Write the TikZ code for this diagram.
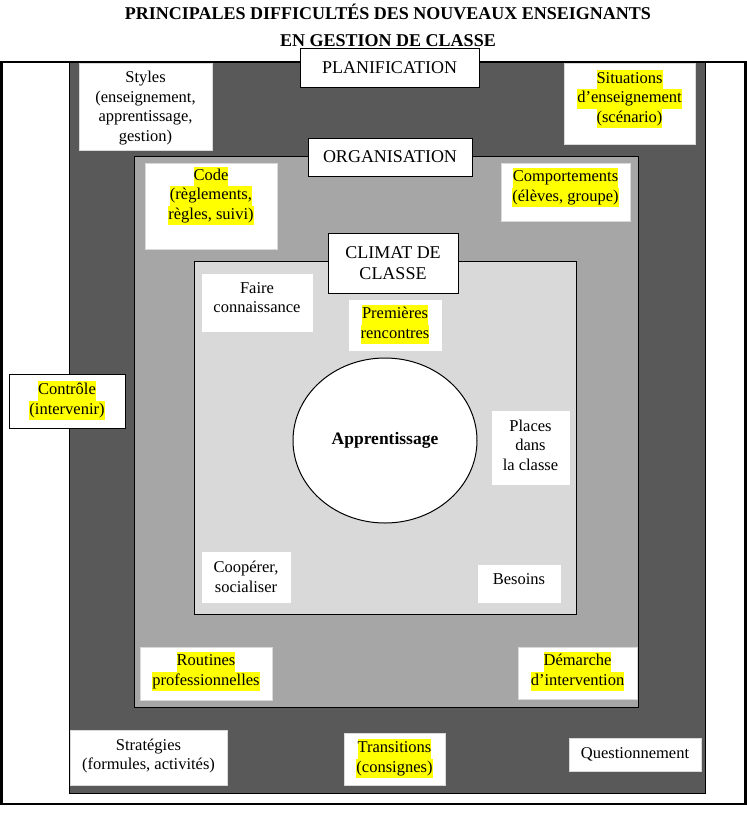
\documentclass[tikz,border=0pt]{standalone}
\usepackage{fontspec}
\setmainfont{Liberation Serif}
\usetikzlibrary{shapes.geometric}
\definecolor{darkg}{RGB}{89,89,89}
\definecolor{midg}{RGB}{166,166,166}
\definecolor{lightg}{RGB}{217,217,217}
\definecolor{hlyellow}{RGB}{255,255,0}
\newcommand{\hlt}[1]{{\setlength{\fboxsep}{0pt}\colorbox{hlyellow}{\strut #1}}}
\tikzset{
  wbox/.style={draw=black!15, line width=0.8pt, fill=white, inner sep=0pt},
  lbox/.style={draw=black, line width=1pt, fill=white, inner sep=0pt,
    font=\fontsize{18}{21}\selectfont, align=center},
  txt/.style={align=center, inner sep=0pt, font=\fontsize{16.5}{19.5}\selectfont},
  zone/.style={line width=1pt, draw=black}
}
\begin{document}
\begin{tikzpicture}[x=1pt,y=-1pt]
\useasboundingbox (0,0) rectangle (747,820);
\fill[white] (0,0) rectangle (747,820);
% title
\node[font=\fontsize{18}{21}\selectfont\bfseries, inner sep=0pt] (title1) at (388,12) {PRINCIPALES DIFFICULTÉS DES NOUVEAUX ENSEIGNANTS};
\node[font=\fontsize{18}{21}\selectfont\bfseries, inner sep=0pt] (title2) at (388,41) {EN GESTION DE CLASSE};
% zones
\draw[line width=2.5pt, fill=white] (1.5,62) rectangle (745.5,804);
\draw[zone, fill=darkg] (69,62) rectangle (705,793);
\draw[zone, fill=midg] (134.5,156) rectangle (638,707);
\draw[zone, fill=lightg] (194.5,261.5) rectangle (576.5,614.5);
% labels of zones
\node[lbox, minimum width=179, minimum height=39] (planif) at (389.5,67.5) {PLANIFICATION};
\node[lbox, minimum width=164, minimum height=38] (organ) at (390,157) {ORGANISATION};
\node[lbox, minimum width=130, minimum height=60] (climat) at (393,263) {CLIMAT DE\\CLASSE};
% planification boxes
\node[wbox, minimum width=133, minimum height=87] (styles) at (145.5,106.5) {};
\node[txt] (stylesT) at (145.5,108) {Styles\\(enseignement,\\apprentissage,\\gestion)};
\node[wbox, minimum width=131, minimum height=81] (situ) at (629.5,103.5) {};
\node[txt] (situT) at (629.5,99) {\hlt{Situations}\\\hlt{d’enseignement}\\\hlt{(scénario)}};
\node[wbox, minimum width=157, minimum height=55] (strat) at (148.5,757.5) {};
\node[txt] (stratT) at (148.5,756) {Stratégies\\(formules, activités)};
\node[wbox, minimum width=101, minimum height=52] (trans) at (394.5,759) {};
\node[txt] (transT) at (394.5,758.5) {\hlt{Transitions}\\\hlt{(consignes)}};
\node[wbox, minimum width=132, minimum height=33] (quest) at (635,754.5) {};
\node[txt] (questT) at (635,754.5) {Questionnement};
\node[lbox, line width=1pt, minimum width=116, minimum height=54] (ctrl) at (67,401) {};
\node[txt] (ctrlT) at (67,400.5) {\hlt{Contrôle}\\\hlt{(intervenir)}};
% organisation boxes
\node[wbox, minimum width=132, minimum height=86] (code) at (211,206) {};
\node[txt] (codeT) at (211,196) {\hlt{Code}\\\hlt{(règlements,}\\\hlt{règles, suivi)}};
\node[wbox, minimum width=129, minimum height=58] (comp) at (565.5,192) {};
\node[txt] (compT) at (565.5,187.5) {\hlt{Comportements}\\\hlt{(élèves, groupe)}};
\node[wbox, minimum width=132, minimum height=53] (rout) at (206,673.5) {};
\node[txt] (routT) at (206,671.5) {\hlt{Routines}\\\hlt{professionnelles}};
\node[wbox, minimum width=119, minimum height=52] (dem) at (577.5,673.5) {};
\node[txt] (demT) at (577.5,671.5) {\hlt{Démarche}\\\hlt{d’intervention}};
% climat boxes
\node[wbox, minimum width=112, minimum height=59] (faire) at (257,302.5) {};
\node[txt] (faireT) at (257,297.5) {Faire\\connaissance};
\node[wbox, minimum width=94, minimum height=52] (prem) at (395,325) {};
\node[txt] (premT) at (395,324.5) {\hlt{Premières}\\\hlt{rencontres}};
\node[wbox, minimum width=79, minimum height=75] (places) at (530.5,447.5) {};
\node[txt] (placesT) at (530.5,445) {Places\\dans\\la classe};
\node[wbox, minimum width=90, minimum height=52] (coop) at (246,577.5) {};
\node[txt] (coopT) at (246,577) {Coopérer,\\socialiser};
\node[wbox, minimum width=84, minimum height=39] (bes) at (519,583.5) {};
\node[txt] (besT) at (519,579) {Besoins};
% centre
\node[ellipse, draw=black, line width=1pt, fill=white, minimum width=184, minimum height=165, inner sep=0pt,
  font=\fontsize{17.5}{20}\selectfont\bfseries] (app) at (385,440.5) {Apprentissage};
\end{tikzpicture}
\end{document}
